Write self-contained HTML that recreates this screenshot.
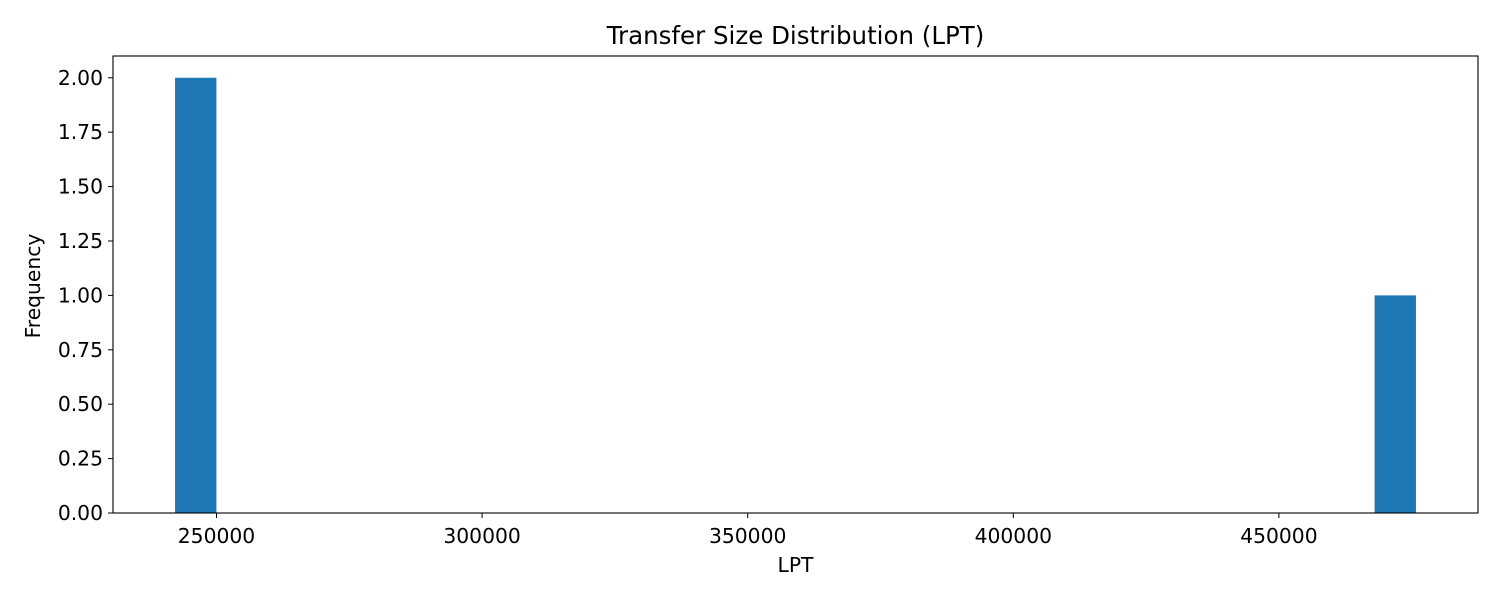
<!DOCTYPE html>
<html><head><meta charset="utf-8"><style>
body{margin:0;background:#fff;font-family:"DejaVu Sans","Liberation Sans",sans-serif;}
svg text{font-family:"DejaVu Sans","Liberation Sans",sans-serif;}
</style></head><body>
<svg id="chart" width="1500" height="600" xmlns="http://www.w3.org/2000/svg">
<rect width="1500" height="600" fill="#fff"/>
<text x="795.5" y="44" style="font-size:24.5px" text-anchor="middle">Transfer Size Distribution (LPT)</text>
<text x="795.5" y="572" style="font-size:20.3px" text-anchor="middle">LPT</text>
<text x="40" y="286" style="font-size:20.3px" text-anchor="middle" transform="rotate(-90 40 286)">Frequency</text>
<g id="bars"></g><g id="xticks"></g><g id="yticks"></g>
<rect x="113" y="56" width="1365" height="457" fill="none" stroke="#000" stroke-width="1.1"/>
</svg>
<script>
const values = [242200, 242200, 475800];
const numBins = 30;
const xTickValues = [250000, 300000, 350000, 400000, 450000];
const yTickValues = [0, 0.25, 0.5, 0.75, 1.0, 1.25, 1.5, 1.75, 2.0];
const yTickLabels = ["0.00","0.25","0.50","0.75","1.00","1.25","1.50","1.75","2.00"];

const L=113,R=1478,T=56,B=513;
const vmin=Math.min(...values), vmax=Math.max(...values), rng=vmax-vmin;
const counts=new Array(numBins).fill(0);
values.forEach(v=>{let i=Math.floor((v-vmin)/rng*numBins);if(i>=numBins)i=numBins-1;counts[i]++;});
const xd0=vmin-0.05*rng, xd1=vmax+0.05*rng;
const ymax=Math.max(...counts)*1.05;
const xs=v=>L+(v-xd0)/(xd1-xd0)*(R-L);
const ys=v=>B-v/ymax*(B-T);
const NS="http://www.w3.org/2000/svg";
const mk=(t,a,p)=>{const e=document.createElementNS(NS,t);for(const k in a)e.setAttribute(k,a[k]);p.appendChild(e);return e;};
const bw=rng/numBins;
counts.forEach((c,i)=>{if(!c)return;
 const x0=xs(vmin+i*bw),x1=xs(vmin+(i+1)*bw);
 const r=mk('rect',{x:x0,y:ys(c),width:x1-x0,height:B-ys(c),fill:'#1f77b4'},document.getElementById('bars'));
 
 
});
const gx=document.getElementById('xticks');
xTickValues.forEach(v=>{const x=xs(v);
 mk('line',{x1:x,x2:x,y1:B,y2:B+5,stroke:'#000','stroke-width':1},gx);
 const t=mk('text',{x:x,y:B+30,style:'font-size:20.3px','text-anchor':'middle'},gx);t.textContent=String(v);
 
 
});
const gy=document.getElementById('yticks');
yTickValues.forEach((v,i)=>{const y=ys(v);
 mk('line',{x1:L-5,x2:L,y1:y,y2:y,stroke:'#000','stroke-width':1},gy);
 const t=mk('text',{x:L-10,y:y+7,style:'font-size:20.3px','text-anchor':'end'},gy);t.textContent=yTickLabels[i];
 
 
});
</script>
</body></html>
